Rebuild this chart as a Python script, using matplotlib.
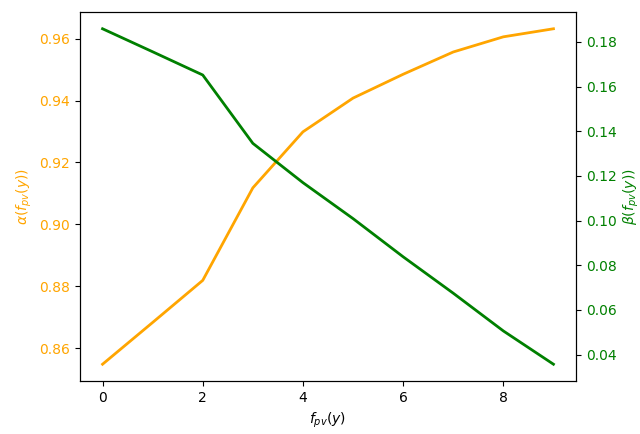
import matplotlib
matplotlib.use("Agg")
import matplotlib.pyplot as plt

# values
fpv = [0, 1, 2, 3, 4, 5, 6, 7, 8, 9]
alpha = [0.8548, 0.8683, 0.8819, 0.9118, 0.9299, 0.9408, 0.9485, 0.9557, 0.9606, 0.9632]
beta = [0.1859, 0.1756, 0.1652, 0.1346, 0.1170, 0.1009, 0.0838, 0.0675, 0.0506, 0.0357]

fig = plt.figure(figsize=(6.4, 4.34), dpi=100)
ax1 = fig.add_axes([80 / 640, 53 / 434, 496 / 640, 369 / 434])

ax1.plot(fpv, alpha, color='orange', linewidth=2)
ax1.set_xlabel(r'$f_{pv}(y)$')
ax1.set_ylabel(r'$\alpha(f_{pv}(y))$', color='orange')
ax1.tick_params(axis='y', labelcolor='orange')

ax2 = ax1.twinx()
ax2.plot(fpv, beta, color='green', linewidth=2)
ax2.set_ylabel(r'$\beta(f_{pv}(y))$', color='green')
ax2.tick_params(axis='y', labelcolor='green')

fig.savefig("out.png", dpi=100)
